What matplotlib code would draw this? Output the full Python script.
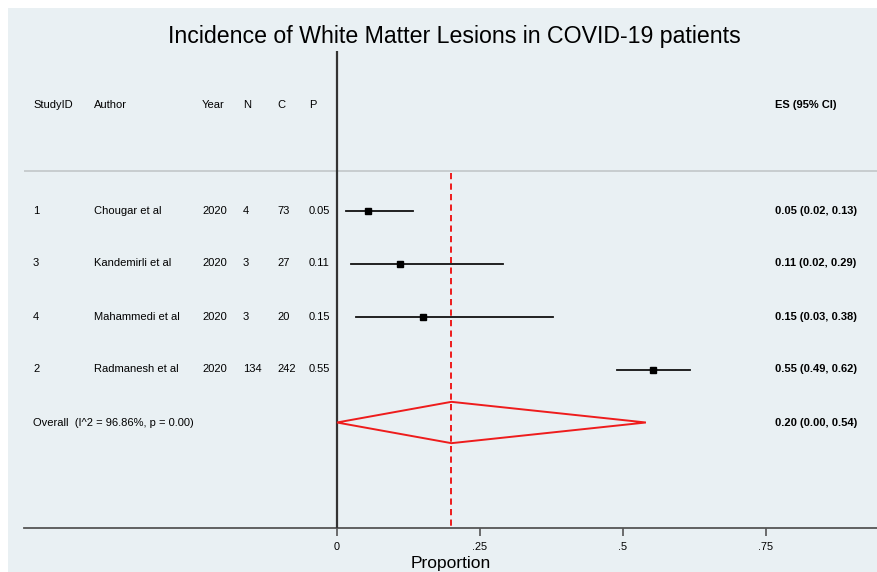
import matplotlib
matplotlib.use("Agg")
import matplotlib.pyplot as plt
from matplotlib.patches import Polygon, Rectangle

plt.rcParams['font.family'] = ['Liberation Sans', 'DejaVu Sans']

# ---- data ----
study_ids = ["1", "3", "4", "2"]
authors = ["Chougar et al", "Kandemirli et al", "Mahammedi et al", "Radmanesh et al"]
years = ["2020", "2020", "2020", "2020"]
n_events = [4, 3, 3, 134]
n_total = [73, 27, 20, 242]
es = [0.054, 0.111, 0.150, 0.553]
ci_low = [0.016, 0.024, 0.033, 0.489]
ci_high = [0.133, 0.290, 0.378, 0.618]
marker_sizes = [5.0, 4.3, 4.3, 5.0]
overall_es = 0.20
overall_low = 0.00
overall_high = 0.54
overall_label = "Overall  (I^2 = 96.86%, p = 0.00)"
headers = ["StudyID", "Author", "Year", "N", "C", "P"]
xticks = [0, 0.25, 0.5, 0.75]
xticklabels = ["0", ".25", ".5", ".75"]
title = "Incidence of White Matter Lesions in COVID-19 patients"
xlabel = "Proportion"

W, H = 878, 572
fig = plt.figure(figsize=(W / 100, H / 100), dpi=100)
fig.patch.set_facecolor("white")
bg = "#e9f0f3"
fig.patches.append(Rectangle((8 / W, -0.01), 1.01, 1.01 - 8 / H, transform=fig.transFigure,
                             facecolor=bg, edgecolor="none", zorder=-10))

# axes spanning pixel x 24..878, y 51..528 (from top)
ax_left, ax_right = 24, 878
ax_top, ax_bot = 51, 528
ax = fig.add_axes([ax_left / W, 1 - ax_bot / H, (ax_right - ax_left) / W, (ax_bot - ax_top) / H])
ax.set_facecolor("none")

px_per_unit = 572.0
x0_px = 337.0
ax.set_xlim((ax_left - x0_px) / px_per_unit, (ax_right - x0_px) / px_per_unit)

row_px = 53.0
row0_px = 210.5
ax.set_ylim((ax_bot - row0_px) / row_px, (ax_top - row0_px) / row_px)


def px2x(px):
    return (px - x0_px) / px_per_unit


def py2y(py):
    return (py - row0_px) / row_px


for s in ["top", "right", "left"]:
    ax.spines[s].set_visible(False)
ax.spines["bottom"].set_color("#555555")
ax.spines["bottom"].set_linewidth(1.3)
ax.set_yticks([])
ax.set_xticks(xticks)
ax.set_xticklabels(xticklabels, fontsize=7.8)
ax.tick_params(axis="x", length=6, width=1.2, color="#555555", pad=4)
ax.set_xlabel(xlabel, fontsize=12.5, labelpad=3)

# vertical line at 0
ax.axvline(0, color="#333333", lw=1.6, zorder=3)

# header separator
sep_y = py2y(170.5)
ax.axhline(sep_y, color="#c2c6c8", lw=1.2, zorder=1)

# red dashed overall line
ax.plot([overall_es, overall_es], [py2y(173), py2y(ax_bot)], color="#ee1c1c",
        lw=1.4, ls=(0, (3.2, 2.2)), zorder=2)

# studies
for i in range(len(es)):
    ax.plot([ci_low[i], ci_high[i]], [i, i], color="#111111", lw=1.3, zorder=4)
    ax.plot(es[i], i, marker="s", color="black", ms=marker_sizes[i], zorder=5)

# overall diamond
oy = len(es)
hh = 0.39
diamond = Polygon([[overall_low, oy], [overall_es, oy - hh], [overall_high, oy],
                   [overall_es, oy + hh]], closed=True, fill=False,
                  edgecolor="#ee1c1c", lw=1.4, zorder=4)
ax.add_patch(diamond)

# text columns
col_px = [33, 94, 202, 243, 277, 309]
es_px = 775
fs = 8.0
hy = py2y(104.5)
for h, cp in zip(headers, col_px):
    ax.text(px2x(cp), hy, h, fontsize=fs, va="center", ha="left")
ax.text(px2x(es_px), hy, "ES (95% CI)", fontsize=fs, va="center", ha="left", fontweight="bold")

for i in range(len(es)):
    vals = [study_ids[i], authors[i], years[i], str(n_events[i]), str(n_total[i]),
            f"{n_events[i] / n_total[i]:.2f}"]
    for v, cp in zip(vals, col_px):
        ax.text(px2x(cp), i, v, fontsize=fs, va="center", ha="left")
    ax.text(px2x(es_px), i, f"{es[i]:.2f} ({ci_low[i]:.2f}, {ci_high[i]:.2f})",
            fontsize=fs, va="center", ha="left", fontweight="bold")

ax.text(px2x(33), oy, overall_label, fontsize=fs, va="center", ha="left")
ax.text(px2x(es_px), oy, f"{overall_es:.2f} ({overall_low:.2f}, {overall_high:.2f})",
        fontsize=fs, va="center", ha="left", fontweight="bold")

fig.text(454 / W, 1 - 36.5 / H, title, fontsize=16.7, ha="center", va="center")

fig.savefig("out.png", dpi=100, facecolor=fig.get_facecolor())
